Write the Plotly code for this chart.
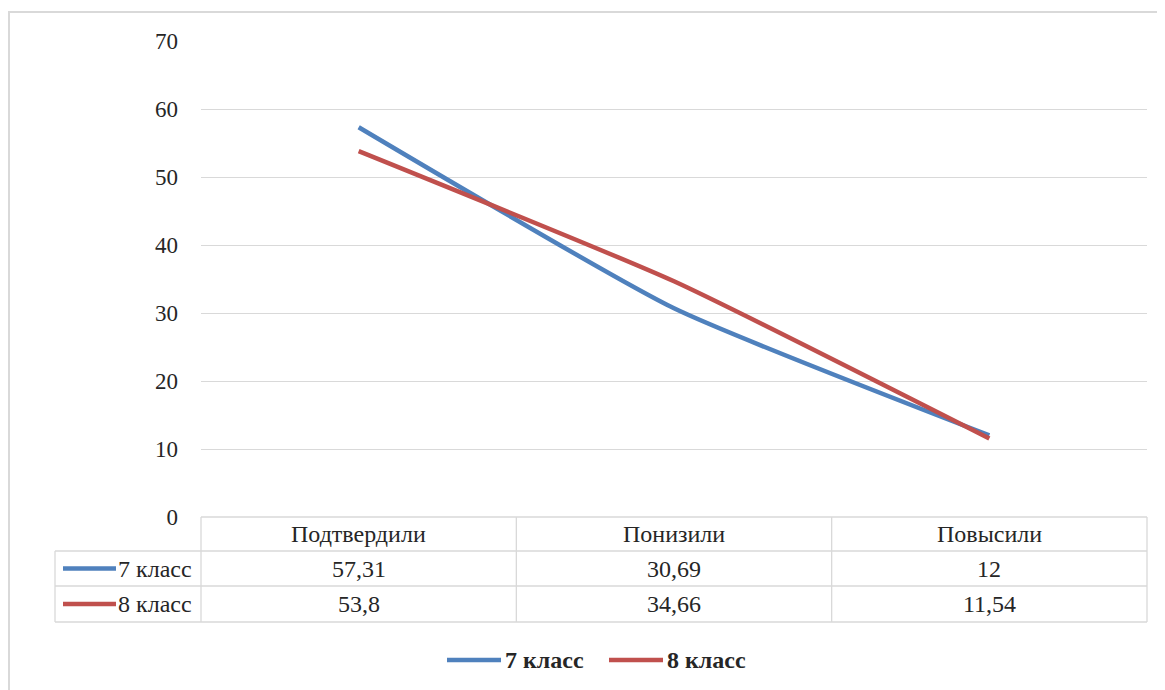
import plotly.graph_objects as go

categories = ["Подтвердили", "Понизили", "Повысили"]
series_names = ["7 класс", "8 класс"]
values_7 = [57.31, 30.69, 12]
values_8 = [53.8, 34.66, 11.54]
y_ticks = [0, 10, 20, 30, 40, 50, 60, 70]

colors = ["#4f81bd", "#c0504d"]
OFF = 8  # default body margin of the page
W, H = 1165 - OFF, 690 - OFF
FONT = "Liberation Serif"
FS = 24
GRID = "#d9d9d9"
TXT = "#262626"


def px(x):
    return (x - OFF) / W


def py(y):
    return 1 - (y - OFF) / H


plot_l, plot_r = 201, 1147
plot_t, plot_b = 41, 517
row_y = [517, 551, 586, 622]
tbl_l = 55
col_x = [plot_l + i * (plot_r - plot_l) / 3 for i in range(4)]

fig = go.Figure()
for name, vals, c in zip(series_names, [values_7, values_8], colors):
    fig.add_trace(go.Scatter(
        x=list(range(len(categories))), y=vals, mode="lines", name=name,
        line=dict(color=c, width=4.5, shape="spline", smoothing=0.5),
        showlegend=False, hoverinfo="x+y",
    ))

shapes = []
annotations = []


def hline(y, x0, x1, w=1.3):
    shapes.append(dict(type="line", xref="paper", yref="paper",
                       x0=px(x0), x1=px(x1), y0=py(y), y1=py(y),
                       line=dict(color=GRID, width=w)))


def vline(x, y0, y1, w=1.3):
    shapes.append(dict(type="line", xref="paper", yref="paper",
                       x0=px(x), x1=px(x), y0=py(y0), y1=py(y1),
                       line=dict(color=GRID, width=w)))


# outer border
shapes.append(dict(type="rect", xref="paper", yref="paper",
                   x0=px(9), x1=px(1185), y0=py(12), y1=py(710),
                   line=dict(color=GRID, width=2), fillcolor="rgba(0,0,0,0)"))

# data table
hline(row_y[0], plot_l, plot_r)
for y in row_y[1:]:
    hline(y, tbl_l, plot_r)
vline(tbl_l, row_y[1], row_y[3])
for x in col_x:
    vline(x, row_y[0], row_y[3])


def fmt(v):
    return ("%g" % v).replace(".", ",")


def txt(x, y, text, anchor="center", bold=False):
    annotations.append(dict(xref="paper", yref="paper", x=px(x), y=py(y),
                            text=("<b>%s</b>" % text) if bold else text,
                            showarrow=False, xanchor=anchor, yanchor="middle",
                            font=dict(family=FONT, size=FS, color=TXT)))


for i, cat in enumerate(categories):
    cx = (col_x[i] + col_x[i + 1]) / 2
    txt(cx, (row_y[0] + row_y[1]) / 2, cat)
    for r, vals in enumerate([values_7, values_8]):
        txt(cx, (row_y[r + 1] + row_y[r + 2]) / 2, fmt(vals[i]))

for r, (name, c) in enumerate(zip(series_names, colors)):
    yc = (row_y[r + 1] + row_y[r + 2]) / 2
    shapes.append(dict(type="line", xref="paper", yref="paper",
                       x0=px(63), x1=px(116), y0=py(yc), y1=py(yc),
                       line=dict(color=c, width=4.5)))
    txt(116, yc, name, anchor="left")

# bottom legend
leg_y = 660
for x0, name, c in [(447, series_names[0], colors[0]), (609, series_names[1], colors[1])]:
    shapes.append(dict(type="line", xref="paper", yref="paper",
                       x0=px(x0), x1=px(x0 + 54), y0=py(leg_y), y1=py(leg_y),
                       line=dict(color=c, width=4.5)))
    txt(x0 + 56, leg_y, name, anchor="left", bold=True)

fig.update_layout(
    template="none",
    autosize=False,
    width=W, height=H,
    margin=dict(l=0, r=0, t=0, b=0, pad=0),
    paper_bgcolor="white", plot_bgcolor="white",
    shapes=shapes, annotations=annotations,
    xaxis=dict(domain=[px(plot_l), px(plot_r)], range=[-0.5, 2.5],
               showticklabels=False, showgrid=False, zeroline=False,
               showline=False, fixedrange=True, automargin=False),
    yaxis=dict(domain=[py(plot_b), py(plot_t)], range=[0, 70],
               tickvals=y_ticks, ticktext=[str(t) for t in y_ticks],
               showgrid=True, gridcolor=GRID, gridwidth=1.3,
               zeroline=False, showline=False, ticks="",
               ticklabelstandoff=22, automargin=False, fixedrange=True,
               tickfont=dict(family=FONT, size=FS - 1, color=TXT)),
    font=dict(family=FONT, color=TXT),
)

fig.write_html("out.html")
